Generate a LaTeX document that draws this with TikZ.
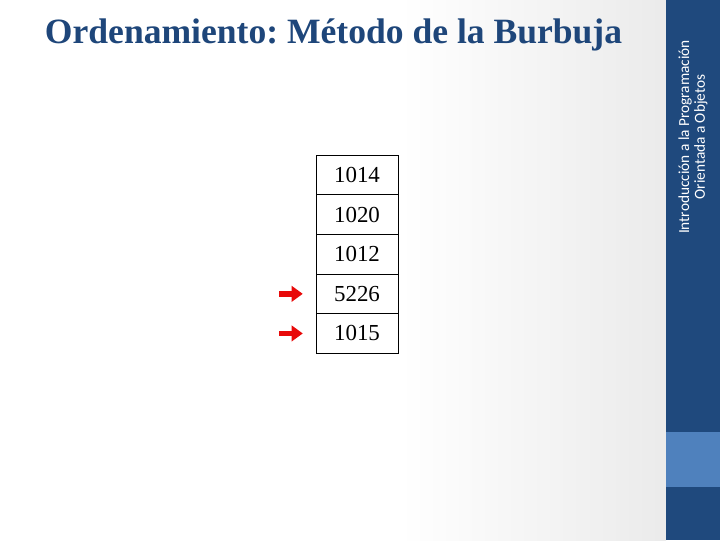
\documentclass[tikz,border=0pt]{standalone}
\usepackage{fontspec}
\setmainfont{Liberation Serif}
\newfontfamily\sidefont{Carlito}
\usetikzlibrary{positioning,arrows.meta}
\definecolor{barblue}{RGB}{31,73,125}
\definecolor{lightbarblue}{RGB}{79,129,189}
\definecolor{titleblue}{RGB}{30,70,122}
\definecolor{arrowred}{RGB}{232,10,10}
\frenchspacing
\tikzset{
  cell/.style={draw,semithick,minimum width=2.05cm,minimum height=0.99cm,inner sep=0pt,outer sep=0pt,font=\fontsize{16.3}{17}\selectfont},
  markarrow/.style={draw=arrowred,line width=4pt,-{Triangle[length=8pt,width=11pt]}}
}
\begin{document}
\begin{tikzpicture}[x=0.025cm,y=-0.025cm]
	\useasboundingbox (0,0) rectangle (720,540);
	% background and side bar
	\fill[white] (0,0) rectangle (720,540);
	\shade[left color=white,right color=black!8] (400,0) rectangle (666,540);
	\fill[barblue] (666,0) rectangle (720,540);
	\fill[lightbarblue] (666,432) rectangle (720,487);
	\node(side) at (693,137) [rotate=90,text=white,align=center,font=\sidefont\fontsize{10.9}{11.3}\selectfont]{Introducción a la Programación\\Orientada a Objetos};
	% title
	\node(title) at (40,35) [anchor=west,text=titleblue,font=\bfseries\fontsize{25.3}{28}\selectfont]{Ordenamiento: Método de la Burbuja};
	% array
	\node[cell](c1) at (357,175){1014};
	\node[cell,below=0pt of c1](c2){1020};
	\node[cell,below=0pt of c2](c3){1012};
	\node[cell,below=0pt of c3](c4){5226};
	\node[cell,below=0pt of c4](c5){1015};
	% markers
	\coordinate(m4) at ([xshift=-0.92cm]c4.west);
	\coordinate(m5) at ([xshift=-0.92cm]c5.west);
	\draw[markarrow](m4) to ([xshift=-0.33cm]c4.west);
	\draw[markarrow](m5) to ([xshift=-0.33cm]c5.west);
\end{tikzpicture}
\end{document}
